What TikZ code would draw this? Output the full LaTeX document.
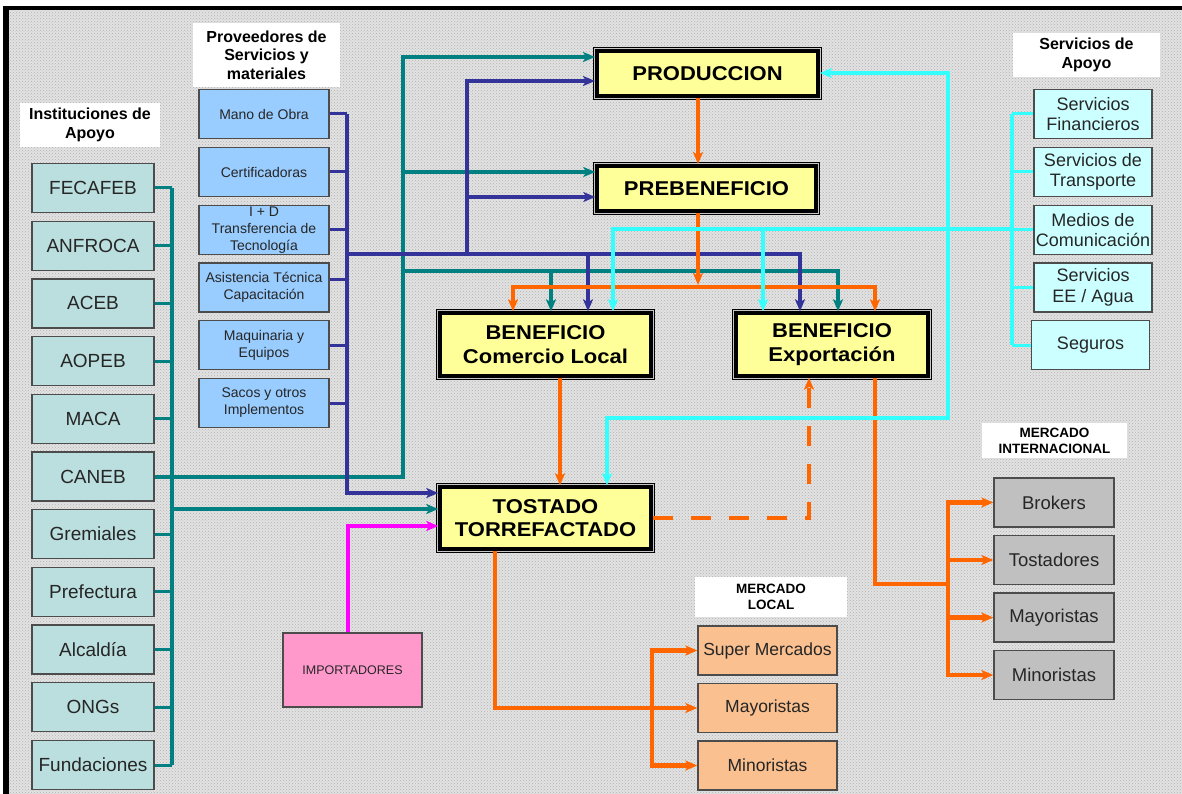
\documentclass[tikz,border=0pt]{standalone}
\usepackage{fontspec}
\setmainfont{Liberation Sans}
\newfontfamily\stagefont[FakeStretch=1.1]{Liberation Sans}
\usetikzlibrary{arrows.meta,patterns}

\definecolor{cTeal}{RGB}{0,128,128}
\definecolor{cIndigo}{RGB}{51,51,153}
\definecolor{cOrange}{RGB}{255,102,0}
\definecolor{cCyan}{RGB}{51,255,255}
\definecolor{cMagenta}{RGB}{255,0,255}
\definecolor{fInst}{RGB}{187,222,222}
\definecolor{fProv}{RGB}{153,204,255}
\definecolor{fServ}{RGB}{204,255,255}
\definecolor{fStage}{RGB}{255,255,153}
\definecolor{fLocal}{RGB}{250,192,143}
\definecolor{fIntl}{RGB}{192,192,192}
\definecolor{fImp}{RGB}{255,153,204}
\definecolor{bgGray}{RGB}{226,226,226}

\tikzset{
  box/.style={draw=black!70, line width=1.3pt, inner sep=0pt, align=center, text=black!85},
  inst/.style={box, fill=fInst, minimum width=122pt, minimum height=49pt, font=\fontsize{19}{22}\selectfont},
  prov/.style={box, fill=fProv, minimum width=130pt, minimum height=49pt, font=\fontsize{14}{17}\selectfont},
  serv/.style={box, fill=fServ, minimum width=118pt, minimum height=49pt, font=\fontsize{18}{20.5}\selectfont},
  localbox/.style={box, fill=fLocal, minimum width=139pt, minimum height=49pt, font=\fontsize{17.5}{20}\selectfont},
  intlbox/.style={box, fill=fIntl, minimum width=120pt, minimum height=49pt, font=\fontsize{18.5}{21}\selectfont},
  impbox/.style={box, fill=fImp, minimum width=139pt, minimum height=74pt, font=\fontsize{12.5}{15}\selectfont},
  stage/.style={fill=fStage, draw=black, line width=4pt, inner sep=0pt, align=center,
     preaction={draw=black, line width=8.5pt},
     preaction={draw=gray!45, line width=6.5pt},
     font=\stagefont\bfseries\fontsize{20}{23.5}\selectfont},
  heading/.style={fill=white, inner sep=0pt, align=center, font=\bfseries\fontsize{16}{18.5}\selectfont},
  tip/.style={-{Stealth[length=12pt,width=10pt,inset=3pt]}},
  tipsboth/.style={{Stealth[length=12pt,width=10pt,inset=3pt]}-{Stealth[length=12pt,width=10pt,inset=3pt]}},
  tealL/.style={draw=cTeal, line width=4pt},
  indL/.style={draw=cIndigo, line width=4pt},
  oraL/.style={draw=cOrange, line width=4.5pt},
  cyaL/.style={draw=cCyan, line width=4.5pt},
  magL/.style={draw=cMagenta, line width=4pt},
  stub/.style={line width=3pt},
  dashline/.style={dash pattern=on 20pt off 18pt},
}

\begin{document}
\begin{tikzpicture}[x=1pt,y=-1pt]
\useasboundingbox (0,0) rectangle (1182,794);

% page background and frame
\fill[white] (0,0) rectangle (1182,794);
\fill[bgGray] (9,10) rectangle (1182,794);
\fill[pattern=crosshatch dots, pattern color=gray!60] (9,10) rectangle (1182,794);
\fill[black] (3,6) rectangle (1182,10);
\fill[black] (3,6) rectangle (9,794);

% group headings
\node[heading, minimum width=140pt, minimum height=44pt] (instT) at (90,125) {Instituciones de\\Apoyo};
\node[heading, minimum width=147pt, minimum height=64pt] (provT) at (266.5,55) {Proveedores de\\Servicios y\\materiales};
\node[heading, minimum width=147pt, minimum height=44pt] (servT) at (1086.5,55) {Servicios de\\Apoyo};
\node[heading, minimum width=152pt, minimum height=40pt, font=\bfseries\fontsize{13.5}{16}\selectfont] (locT) at (771,597) {MERCADO\\LOCAL};
\node[heading, minimum width=145pt, minimum height=35pt, font=\bfseries\fontsize{13.5}{16}\selectfont] (intT) at (1054.5,440.5) {MERCADO\\INTERNACIONAL};

% support institutions
\foreach \n/\t [count=\i from 0] in {fecafeb/FECAFEB, anfroca/ANFROCA, aceb/ACEB, aopeb/AOPEB, maca/MACA, caneb/CANEB, gremiales/Gremiales, prefectura/Prefectura, alcaldia/Alcaldía, ongs/ONGs, fundaciones/Fundaciones}
  \node[inst] (\n) at (93,{188+57.7*\i}) {\t};

% service and material providers
\node[prov] (mano) at (264,114) {Mano de Obra};
\node[prov] (cert) at (264,172) {Certificadoras};
\node[prov] (imasd) at (264,230) {I + D\\Transferencia de\\Tecnología};
\node[prov] (asis) at (264,287.5) {Asistencia Técnica\\Capacitación};
\node[prov] (maq) at (264,345) {Maquinaria y\\Equipos};
\node[prov] (sacos) at (264,403) {Sacos y otros\\Implementos};

% support services
\node[serv] (fin) at (1093,114) {Servicios\\Financieros};
\node[serv] (trans) at (1093,172) {Servicios de\\Transporte};
\node[serv] (medios) at (1093,230) {Medios de\\Comunicación};
\node[serv] (agua) at (1093,287.5) {Servicios\\EE / Agua};
\node[serv] (seg) at (1090.5,345) {Seguros};

% value chain stages
\node[stage, minimum width=221pt, minimum height=45pt] (prod) at (707.5,73.5) {PRODUCCION};
\node[stage, minimum width=218.5pt, minimum height=45pt] (preb) at (706.5,188.5) {PREBENEFICIO};
\node[stage, minimum width=210.5pt, minimum height=62.5pt] (benL) at (545.5,344.5) {BENEFICIO\\Comercio Local};
\node[stage, minimum width=191.5pt, minimum height=62.5pt] (benE) at (832,344.5) {BENEFICIO\\Exportación};
\node[stage, minimum width=210.5pt, minimum height=61.5pt] (tost) at (545.5,518) {TOSTADO\\TORREFACTADO};

% importers
\node[impbox] (impo) at (352.5,670) {IMPORTADORES};

% markets
\node[localbox] (supL) at (767.5,650.5) {Super Mercados};
\node[localbox] (mayL) at (767.5,708) {Mayoristas};
\node[localbox] (minL) at (767.5,765.5) {Minoristas};
\node[intlbox] (brok) at (1054,502.5) {Brokers};
\node[intlbox] (tostI) at (1054,560) {Tostadores};
\node[intlbox] (mayI) at (1054,617.5) {Mayoristas};
\node[intlbox] (minI) at (1054,675) {Minoristas};

% ---- institutions (teal) ----
\coordinate (busI) at (172,0);
\draw[tealL] (busI |- fecafeb.east) -- (busI |- fundaciones.east);
\foreach \n in {fecafeb,anfroca,aceb,aopeb,maca,gremiales,prefectura,alcaldia,ongs,fundaciones}
  \draw[tealL, stub] (\n.east) -- (\n.east -| busI);
\coordinate (tCorner) at (403,57);
\draw[tealL, tip] (caneb.east) -- (caneb.east -| tCorner) -- (tCorner) -- (tCorner -| prod.west);
\coordinate (tPre) at (403,172);
\draw[tealL, tip] (tPre) -- (tPre -| preb.west);
\coordinate (tRow) at (403,271);
\coordinate (tBenL) at (551,271);
\coordinate (tBenE) at (838,271);
\draw[tealL, tip] (tRow) -- (tBenE) -- (tBenE |- benE.north);
\draw[tealL, tip] (tBenL) -- (tBenL |- benL.north);
\coordinate (tTos) at (172,509);
\draw[tealL, tip] (tTos) -- (tTos -| tost.west);

% ---- providers (indigo) ----
\coordinate (bTos) at (347,493);
\draw[indL, tip] (mano.east -| bTos) -- (bTos) -- (bTos -| tost.west);
\foreach \n in {mano,cert,imasd,maq,sacos}
  \draw[indL, stub] (\n.east) -- (\n.east -| bTos);
\draw[indL, stub] ([yshift=8pt]asis.east) -- ([yshift=8pt]asis.east -| bTos);
\coordinate (bRow) at (347,254);
\coordinate (bBenL) at (588,254);
\coordinate (bBenE) at (800,254);
\coordinate (bUp) at (467,254);
\coordinate (bProd) at (467,81);
\coordinate (bPre) at (467,197);
\draw[indL, tip] (bRow) -- (bBenE) -- (bBenE |- benE.north);
\draw[indL, tip] (bBenL) -- (bBenL |- benL.north);
\draw[indL, tip] (bUp) -- (bProd) -- (bProd -| prod.west);
\draw[indL, tip] (bPre) -- (bPre -| preb.west);

% ---- product flow (orange) ----
\coordinate (oJ) at (698,285);
\draw[oraL, tip] (oJ |- prod.south) -- (oJ |- preb.north);
\draw[oraL, tip] (oJ |- preb.south) -- (oJ);
\coordinate (oL) at (513,287);
\coordinate (oR) at (875,287);
\draw[oraL, tipsboth] (oL |- benL.north) -- (oL) -- (oR) -- (oR |- benE.north);
\coordinate (oLoc) at (560,0);
\draw[oraL, tip] (oLoc |- benL.south) -- (oLoc |- tost.north);
\coordinate (oDash) at (809,518);
\draw[oraL, dashline, tip] (tost.east) -- (oDash) -- (oDash |- benE.south);
\coordinate (oExp) at (875,584);
\coordinate (oBus) at (948,584);
\draw[oraL] (oExp |- benE.south) -- (oExp) -- (oBus);
\draw[oraL, tipsboth] (brok.west) -- (brok.west -| oBus) -- (minI.west -| oBus) -- (minI.west);
\draw[oraL, tip] (tostI.west -| oBus) -- (tostI.west);
\draw[oraL, tip] (mayI.west -| oBus) -- (mayI.west);
\coordinate (oTos) at (495,0);
\draw[oraL, tip] (oTos |- tost.south) -- (oTos |- mayL.west) -- (mayL.west);
\coordinate (oLocBus) at (652,0);
\draw[oraL, tipsboth] (supL.west) -- (supL.west -| oLocBus) -- (minL.west -| oLocBus) -- (minL.west);

% ---- importers (magenta) ----
\coordinate (mC) at (348,526);
\draw[magL, tip] (mC |- impo.north) -- (mC) -- (mC -| tost.west);

% ---- support services (cyan) ----
\coordinate (cX) at (1012,0);
\draw[cyaL] (cX |- fin.west) -- (cX |- seg.west);
\foreach \n in {fin,trans,medios,agua,seg}
  \draw[cyaL, stub] (\n.west) -- (\n.west -| cX);
\coordinate (cRow) at (1012,229);
\coordinate (cL) at (613,229);
\coordinate (cE) at (763,229);
\draw[cyaL, tip] (cRow) -- (cL) -- (cL |- benL.north);
\draw[cyaL, tip] (cE) -- (cE |- benE.north);
\coordinate (cTop) at (948,73);
\coordinate (cBot) at (948,418);
\coordinate (cTos) at (607,418);
\draw[cyaL, tipsboth] (cTop -| prod.east) -- (cTop) -- (cBot) -- (cTos) -- (cTos |- tost.north);
\end{tikzpicture}
\end{document}
